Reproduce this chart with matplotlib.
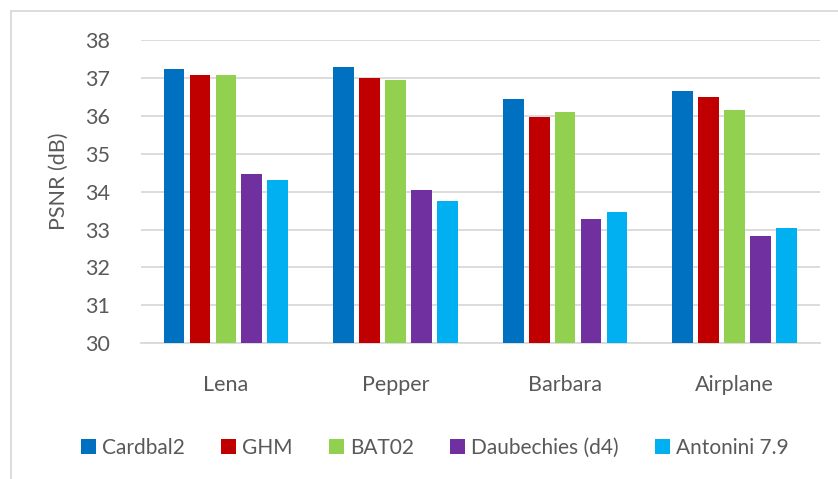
import matplotlib.pyplot as plt
import numpy as np
from matplotlib.patches import Rectangle

plt.rcParams['font.family'] = ['Lato', 'DejaVu Sans']

images = ["Lena", "Pepper", "Barbara", "Airplane"]
series_names = ["Cardbal2", "GHM", "BAT02", "Daubechies (d4)", "Antonini 7.9"]
cardbal2 = [37.24, 37.29, 36.44, 36.66]
ghm = [37.07, 36.99, 35.98, 36.50]
bat02 = [37.07, 36.95, 36.09, 36.15]
daub_d4 = [34.46, 34.04, 33.28, 32.83]
antonini = [34.32, 33.75, 33.47, 33.04]
colors = ['#0070C0', '#C00000', '#92D050', '#7030A0', '#00B0F0']

text_color = '#595959'
grid_color = '#d9d9d9'
fs = 15.5

fig = plt.figure(figsize=(8.38, 4.79), dpi=100)
ax = fig.add_axes([0.1683, 0.2833, 0.8097, 0.6332])

x = np.arange(len(images))
width = 0.122
pitch = 0.153
all_series = [cardbal2, ghm, bat02, daub_d4, antonini]
for i, vals in enumerate(all_series):
    ax.bar(x + (i - 2) * pitch, np.array(vals) - 30, width, bottom=30,
           color=colors[i], label=series_names[i], zorder=3)

ax.set_xlim(-0.5, 3.5)
ax.set_ylim(30, 38)
ax.set_yticks(range(30, 39))
ax.set_xticks(x)
ax.set_xticklabels(images)
ax.grid(axis='y', color=grid_color, linewidth=1.3, zorder=0)
for s in ['top', 'right', 'left']:
    ax.spines[s].set_visible(False)
ax.spines['bottom'].set_color(grid_color)
ax.spines['bottom'].set_linewidth(1.3)
ax.tick_params(axis='both', length=0, colors=text_color, labelsize=fs)
ax.tick_params(axis='y', pad=22)
ax.tick_params(axis='x', pad=23)

fig.text(59 / 838, 0.622, "PSNR (dB)", rotation=90, ha='center', va='center',
         fontsize=fs, color=text_color)

leg = fig.legend(loc='center', bbox_to_anchor=(0.519, 0.065), ncol=5, frameon=False,
                 fontsize=15, handlelength=0.7, handleheight=0.7,
                 handletextpad=0.3, columnspacing=1.75)
for t in leg.get_texts():
    t.set_color(text_color)

fig.patches.append(Rectangle((11 / 838, -0.1), 1.2, 1 - 11 / 479 + 0.1,
                             transform=fig.transFigure, fill=False,
                             edgecolor=grid_color, linewidth=1.3))

fig.savefig('out.png', dpi=100)
